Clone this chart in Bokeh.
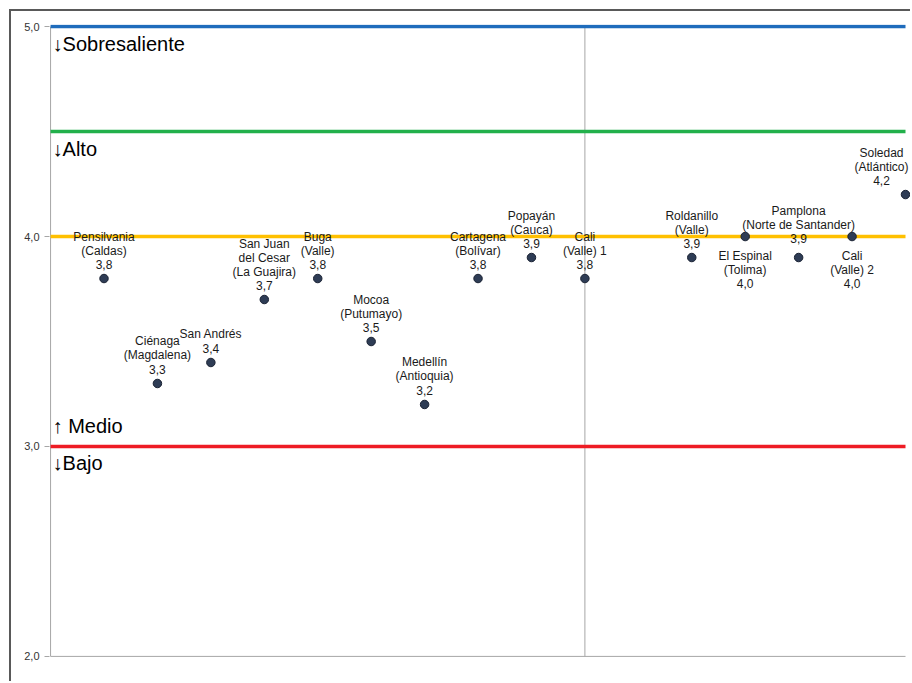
from bokeh.plotting import figure
from bokeh.models import Label, LabelSet, ColumnDataSource, FixedTicker, Range1d
from bokeh.embed import file_html
from bokeh.resources import INLINE
from bokeh.core.properties import value

# Municipal scores on a 2-5 scale
positions = [1, 2, 3, 4, 5, 6, 7, 8, 9, 10, 12, 13, 14, 15, 16]
places = [
    "Pensilvania\n(Caldas)",
    "Ciénaga\n(Magdalena)",
    "San Andrés",
    "San Juan\ndel Cesar\n(La Guajira)",
    "Buga\n(Valle)",
    "Mocoa\n(Putumayo)",
    "Medellín\n(Antioquia)",
    "Cartagena\n(Bolívar)",
    "Popayán\n(Cauca)",
    "Cali\n(Valle) 1",
    "Roldanillo\n(Valle)",
    "El Espinal\n(Tolima)",
    "Pamplona\n(Norte de Santander)",
    "Cali\n(Valle) 2",
    "Soledad\n(Atlántico)",
]
scores = [3.8, 3.3, 3.4, 3.7, 3.8, 3.5, 3.2, 3.8, 3.9, 3.8, 3.9, 4.0, 3.9, 4.0, 4.2]
label_below = [False, False, False, False, False, False, False, False, False, False,
               False, True, False, True, False]

# Performance bands
level_values = [5.0, 4.5, 4.0, 3.0]
level_colors = ["#1f6cbc", "#22b04b", "#ffc000", "#ee1c24"]
band_names = ["↓Sobresaliente", "↓Alto", "↑ Medio", "↓Bajo"]
band_at = [5.0, 4.5, 3.0, 3.0]
band_above = [False, False, True, False]

tick_values = [2, 3, 4, 5]
tick_labels = ["2,0", "3,0", "4,0", "5,0"]
divider_x = 10

x_start, x_end = 0, max(positions)
y_start, y_end = min(tick_values), max(tick_values)

# small hand placements for crowded labels (pixels: dx, dy-up)
label_nudge = {"Pamplona\n(Norte de Santander)": (0, 5)}
edge_shift = -24  # keeps the rightmost label inside the page

p = figure(
    width=901, height=672,
    x_range=Range1d(x_start - 0.02, x_end + 0.131),
    y_range=Range1d(y_start - 0.01, y_end + 0.01),
    output_backend="svg", toolbar_location=None,
    x_axis_location=None,
    min_border_left=38, min_border_right=0,
    min_border_top=13, min_border_bottom=25,
)
p.styles = {
    "margin-left": "9px", "margin-top": "9px",
    "border-left": "2px solid #595959", "border-top": "2px solid #595959",
}
p.grid.visible = False
p.outline_line_color = None
p.background_fill_color = "white"
p.border_fill_color = "white"

ya = p.yaxis[0]
ya.ticker = FixedTicker(ticks=tick_values)
ya.major_label_overrides = {v: s for v, s in zip(tick_values, tick_labels)}
ya.axis_line_color = None
ya.major_tick_line_color = "#a6a6a6"
ya.major_tick_in = 0
ya.major_tick_out = 5
ya.minor_tick_line_color = None
ya.major_label_text_font = "Liberation Sans"
ya.major_label_text_font_size = "11px"
ya.major_label_text_color = "#333333"
ya.major_label_standoff = 5

# axis lines and the vertical divider
axis_grey = "#a6a6a6"
p.segment(x0=[x_start, x_start, divider_x], y0=[y_start, y_start, y_start],
          x1=[x_start, x_end, divider_x], y1=[y_end, y_start, y_end],
          line_color=axis_grey, line_width=1)

# band threshold lines
p.segment(x0=[x_start] * len(level_values), y0=level_values,
          x1=[x_end] * len(level_values), y1=level_values,
          line_color=level_colors, line_width=3.5)

for name, yv, above in zip(band_names, band_at, band_above):
    p.add_layout(Label(
        x=x_start, y=yv, text=name, x_offset=2,
        y_offset=9 if above else -6,
        text_baseline="bottom" if above else "top",
        text_font="Liberation Sans", text_font_size="20px", text_color="#000000",
    ))

src = ColumnDataSource(dict(x=positions, y=scores))
p.scatter("x", "y", source=src, size=8.5, fill_color="#2e3c55",
          line_color="#1a2233", line_width=1)

# one row per text line so every line is centred on its point
line_step = 14
rows = dict(x=[], y=[], t=[], dx=[], off=[])
for xv, yv, name, below in zip(positions, scores, places, label_below):
    lines = name.split("\n") + [f"{yv:.1f}".replace(".", ",")]
    n = len(lines)
    ndx, ndy = label_nudge.get(name, (0, 0))
    if xv == x_end:
        ndx += edge_shift
    for i, line in enumerate(lines):
        if below:
            off = -(19 + line_step * i)
        else:
            off = 14 + line_step * (n - 1 - i)
        rows["x"].append(xv)
        rows["y"].append(yv)
        rows["t"].append(line)
        rows["dx"].append(ndx)
        rows["off"].append(off + ndy)

p.add_layout(LabelSet(
    x="x", y="y", text="t", x_offset="dx", y_offset="off",
    source=ColumnDataSource(rows),
    text_font=value("Liberation Sans"), text_font_size=value("12px"),
    text_color="#1a1a1a", text_align="center", text_baseline="middle",
))

open("out.html", "w").write(file_html(p, INLINE))
